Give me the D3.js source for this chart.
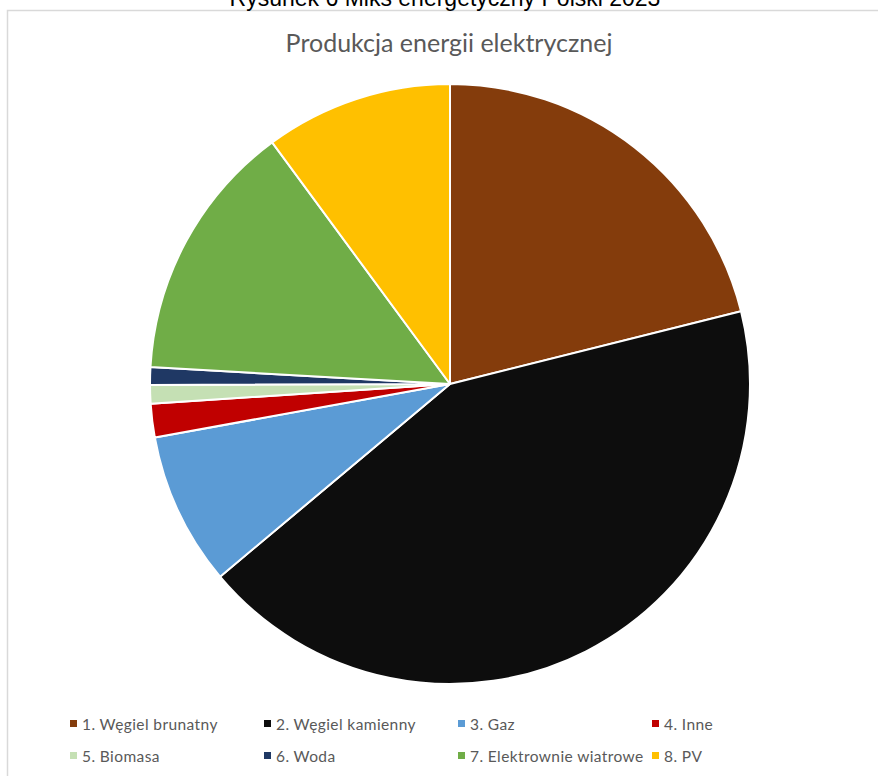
<!DOCTYPE html>
<html>
<head>
<meta charset="utf-8">
<script src="https://cdn.jsdelivr.net/npm/d3@7"></script>
<style>
  html, body { margin: 0; padding: 0; background: #fff; overflow: hidden; }
</style>
</head>
<body>
<svg id="chart" width="878" height="776"></svg>
<script>
// data (share of production, %)
var categories = ["1. Węgiel brunatny", "2. Węgiel kamienny", "3. Gaz", "4. Inne",
                  "5. Biomasa", "6. Woda", "7. Elektrownie wiatrowe", "8. PV"];
var shares = [21.1, 42.8, 8.25, 1.8, 1.0, 0.95, 14.0, 10.1];
var colors = ["#843c0c", "#0d0d0d", "#5b9bd5", "#c00000", "#c5e0b4", "#1f3864", "#70ad47", "#ffc000"];

var chartTitle = "Produkcja energii elektrycznej";
var figureCaption = "Rysunek 6 Miks energetyczny Polski 2023";

var svg = d3.select("#chart");

// chart area frame (runs off the right/bottom edge)
svg.append("rect")
    .attr("x", 7.5).attr("y", 10.5)
    .attr("width", 900).attr("height", 800)
    .attr("fill", "#fff")
    .attr("stroke", "#d9d9d9")
    .attr("stroke-width", 1.5);

// caption above the frame, cut by the top edge as in the original
svg.append("text")
    .attr("x", 445).attr("y", 6)
    .attr("text-anchor", "middle")
    .attr("font-family", "Liberation Sans, Arial, sans-serif")
    .attr("font-size", 23)
    .attr("fill", "#000")
    .text(figureCaption);

svg.append("text")
    .attr("x", 449).attr("y", 52)
    .attr("text-anchor", "middle")
    .attr("font-family", "Lato, 'Open Sans', sans-serif")
    .attr("font-size", 25)
    .attr("fill", "#595959")
    .text(chartTitle);

var cx = 450, cy = 384, r = 300;

var pie = d3.pie().sort(null).value(function(d) { return d; });
var arc = d3.arc().innerRadius(0).outerRadius(r);

svg.append("g")
    .attr("transform", "translate(" + cx + "," + cy + ")")
  .selectAll("path")
    .data(pie(shares))
    .enter().append("path")
      .attr("d", arc)
      .attr("fill", function(d, i) { return colors[i]; })
      .attr("stroke", "#fff")
      .attr("stroke-width", 2)
      .attr("stroke-linejoin", "round");

// legend, 4 columns x 2 rows
var legend = svg.append("g").attr("font-family", "Lato, 'Open Sans', sans-serif");
var item = legend.selectAll("g")
    .data(categories)
    .enter().append("g")
      .attr("transform", function(d, i) {
          return "translate(" + (70 + (i % 4) * 194) + "," + (724 + Math.floor(i / 4) * 32) + ")";
      });

item.append("rect")
    .attr("x", 0).attr("y", -4)
    .attr("width", 7).attr("height", 7)
    .attr("fill", function(d, i) { return colors[i]; });

item.append("text")
    .attr("x", 12).attr("y", 1)
    .attr("dy", "0.35em")
    .attr("font-size", 15.5)
    .attr("letter-spacing", 0.4)
    .attr("fill", "#595959")
    .text(function(d) { return d; });
</script>
</body>
</html>
